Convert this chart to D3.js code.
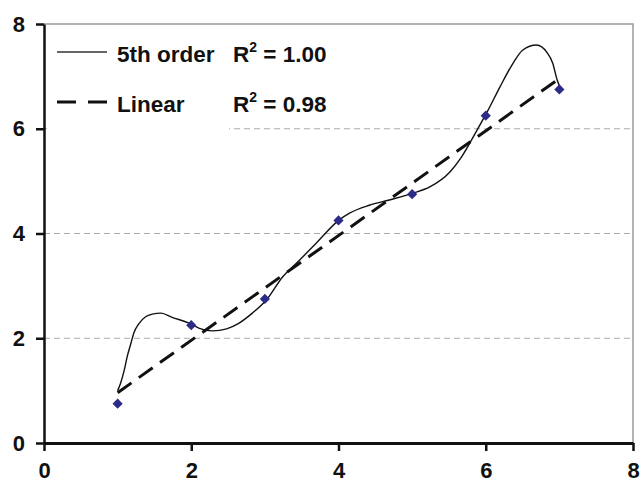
<!DOCTYPE html>
<html>
<head>
<meta charset="utf-8">
<script src="https://cdn.jsdelivr.net/npm/d3@7"></script>
<style>
  body { margin: 0; background: #fff; }
  text { font-family: "Liberation Sans", Arial, sans-serif; font-weight: bold; }
</style>
</head>
<body>
<div id="chart"></div>
<script>
// measured points
var xVals = [1, 2, 3, 4, 5, 6, 7];
var yVals = [0.75, 2.25, 2.75, 4.25, 4.75, 6.25, 6.75];

// 5th order trendline
var polyX = [1.0, 1.04, 1.09, 1.13, 1.18, 1.22, 1.29, 1.38, 1.47, 1.59, 1.74, 1.97, 2.11, 2.29, 2.48,
  2.65, 2.83, 3.02, 3.24, 3.47, 3.70, 4.01, 4.15, 4.42, 4.69, 5.01, 5.24, 5.51, 5.67, 5.88, 6.03,
  6.19, 6.37, 6.50, 6.69, 6.83, 6.91, 6.97, 7.0];
var polyY = [1.0, 1.14, 1.39, 1.65, 1.90, 2.10, 2.28, 2.41, 2.46, 2.48, 2.40, 2.29, 2.19, 2.14, 2.18,
  2.29, 2.48, 2.73, 3.17, 3.49, 3.82, 4.26, 4.39, 4.54, 4.64, 4.77, 4.89, 5.17, 5.46, 5.97, 6.35,
  6.79, 7.25, 7.50, 7.60, 7.46, 7.25, 6.93, 6.82];

// linear trendline ends
var linX = [1, 7];
var linY = [0.96, 6.96];

var xTicks = [0, 2, 4, 6, 8];
var yTicks = [0, 2, 4, 6, 8];
var gridTicks = [2, 4, 6];

var legendNames = ["5th order", "Linear"];
var legendR2 = ["1.00", "0.98"];

var W = 643, H = 487;
var margin = { top: 24, right: 10, bottom: 44, left: 44 };

var svg = d3.select("#chart").append("svg")
  .attr("width", W)
  .attr("height", H);

var x = d3.scaleLinear().domain([0, 8]).range([margin.left, W - margin.right]);
var y = d3.scaleLinear().domain([0, 8]).range([H - margin.bottom, margin.top]);

// gridlines
svg.append("g").selectAll("line")
  .data(gridTicks)
  .enter()
  .append("line")
  .attr("x1", x(0)).attr("x2", x(8))
  .attr("y1", function(d) { return y(d); })
  .attr("y2", function(d) { return y(d); })
  .attr("stroke", "#aaa")
  .attr("stroke-width", 1)
  .attr("stroke-dasharray", "6,4");

// top and right frame
svg.append("path")
  .attr("d", "M" + x(0) + "," + y(8) + "H" + x(8) + "V" + y(0))
  .attr("fill", "none")
  .attr("stroke", "#9a9a9a")
  .attr("stroke-width", 1.5);

// legend box (white, hides grid)
svg.append("rect")
  .attr("x", x(0) + 3).attr("y", 30)
  .attr("width", 182).attr("height", 101)
  .attr("fill", "#fff");

// linear trend
var line = d3.line()
  .x(function(d) { return x(d[0]); })
  .y(function(d) { return y(d[1]); });

svg.append("path")
  .datum(d3.zip(linX, linY))
  .attr("d", line)
  .attr("fill", "none")
  .attr("stroke", "#111")
  .attr("stroke-width", 3)
  .attr("stroke-dasharray", "17,9");

// 5th order trend
svg.append("path")
  .datum(d3.zip(polyX, polyY))
  .attr("d", line.curve(d3.curveMonotoneX))
  .attr("fill", "none")
  .attr("stroke", "#111")
  .attr("stroke-width", 1.4);

// markers
svg.append("g").selectAll("path")
  .data(d3.zip(xVals, yVals))
  .enter()
  .append("path")
  .attr("d", d3.symbol().type(d3.symbolSquare).size(52))
  .attr("transform", function(d) { return "translate(" + x(d[0]) + "," + y(d[1]) + ") rotate(45)"; })
  .attr("fill", "#2b2b88");

// axes
var xAxis = svg.append("g")
  .attr("transform", "translate(0," + y(0) + ")")
  .call(d3.axisBottom(x).tickValues(xTicks).tickSize(8).tickSizeOuter(0).tickPadding(11));
var yAxis = svg.append("g")
  .attr("transform", "translate(" + x(0) + ",0)")
  .call(d3.axisLeft(y).tickValues(yTicks).tickSize(8).tickSizeOuter(0).tickPadding(11));

[xAxis, yAxis].forEach(function(a) {
  a.select(".domain").attr("stroke", "#111").attr("stroke-width", 2.5);
  a.selectAll(".tick line").attr("stroke", "#111").attr("stroke-width", 2.5);
  a.selectAll(".tick text").attr("fill", "#111").style("font-size", "22px")
    .style("font-family", "'Liberation Sans', Arial, sans-serif").style("font-weight", "bold");
});
xAxis.select(".domain").attr("stroke-width", 3);

// legend
var legendY = [52, 102];
var leg = svg.append("g");
leg.append("line")
  .attr("x1", 57).attr("x2", 107).attr("y1", legendY[0]).attr("y2", legendY[0])
  .attr("stroke", "#333").attr("stroke-width", 1.6);
leg.append("line")
  .attr("x1", 57).attr("x2", 108).attr("y1", legendY[1]).attr("y2", legendY[1])
  .attr("stroke", "#111").attr("stroke-width", 3).attr("stroke-dasharray", "19,12");

legendNames.forEach(function(name, i) {
  leg.append("text")
    .attr("x", 117).attr("y", legendY[i] + 10)
    .attr("fill", "#111")
    .style("font-size", "22.5px")
    .text(name);
  var t = leg.append("text")
    .attr("x", 233).attr("y", legendY[i] + 10)
    .attr("fill", "#111")
    .style("font-size", "22.5px");
  t.append("tspan").text("R");
  t.append("tspan").attr("dy", -10).style("font-size", "14px").text("2");
  t.append("tspan").attr("dy", 10).text(" = " + legendR2[i]);
});
</script>
</body>
</html>
